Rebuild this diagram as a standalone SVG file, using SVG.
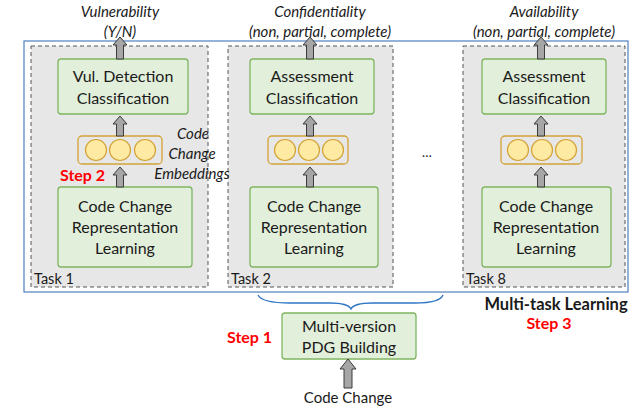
<svg xmlns="http://www.w3.org/2000/svg" width="633" height="412" viewBox="0 0 633 412">
<style>
text{font-family:Lato,"Liberation Sans",sans-serif;fill:#1a1a1a}
.t{font-size:16px;text-anchor:middle}
.it{font-size:15px;font-style:italic;text-anchor:middle}
.task{fill:#e7e7e7;stroke:#555;stroke-width:1;stroke-dasharray:4 3}
.g{fill:#e2efda;stroke:#7fb562;stroke-width:1.3}
.emb{fill:none;stroke:#d4a237;stroke-width:1.3}
.c{fill:#feeaa3;stroke:#d4a237;stroke-width:1.2}
.arr{fill:#a6a6a6;stroke:#3c3c3c;stroke-width:1}
.red{fill:#f00;font-weight:bold;font-size:16px}
.lbl{font-size:14.5px}
</style>
<rect x="24" y="41" width="604" height="251" fill="#fff" stroke="#4f7fc0" stroke-width="1.2"/>
<g id="task1">
<rect class="task" x="31" y="46" width="177" height="241"/>
<text class="lbl" x="34" y="284">Task 1</text>
<g id="t1-cls"><rect class="g" x="58" y="59" width="130" height="55" rx="3"/>
<text class="t" x="123" y="82">Vul. Detection</text><text class="t" x="123" y="104">Classification</text></g>
<g id="t1-emb"><rect class="emb" x="78" y="136" width="84" height="28" rx="4"/>
<circle class="c" cx="96" cy="150" r="10.5"/><circle class="c" cx="120" cy="150" r="10.5"/><circle class="c" cx="145" cy="150" r="10.5"/></g>
<g id="t1-rep"><rect class="g" x="58" y="187" width="134" height="80" rx="3"/>
<text class="t" x="125" y="212">Code Change</text><text class="t" x="125" y="233">Representation</text><text class="t" x="125" y="254">Learning</text></g>
</g>
<g id="task2">
<rect class="task" x="228" y="46" width="165" height="241"/>
<text class="lbl" x="231" y="284">Task 2</text>
<g id="t2-cls"><rect class="g" x="250" y="59" width="124" height="55" rx="3"/>
<text class="t" x="312" y="82">Assessment</text><text class="t" x="312" y="104">Classification</text></g>
<g id="t2-emb"><rect class="emb" x="268" y="136" width="80" height="28" rx="4"/>
<circle class="c" cx="285" cy="150" r="10.5"/><circle class="c" cx="309" cy="150" r="10.5"/><circle class="c" cx="333" cy="150" r="10.5"/></g>
<g id="t2-rep"><rect class="g" x="250" y="187" width="128" height="80" rx="3"/>
<text class="t" x="314" y="212">Code Change</text><text class="t" x="314" y="233">Representation</text><text class="t" x="314" y="254">Learning</text></g>
</g>
<g id="task8">
<rect class="task" x="463" y="46" width="162" height="241"/>
<text class="lbl" x="466" y="284">Task 8</text>
<g id="t8-cls"><rect class="g" x="482" y="59" width="124" height="55" rx="3"/>
<text class="t" x="544" y="82">Assessment</text><text class="t" x="544" y="104">Classification</text></g>
<g id="t8-emb"><rect class="emb" x="501" y="136" width="81" height="28" rx="4"/>
<circle class="c" cx="518" cy="150" r="10.5"/><circle class="c" cx="542" cy="150" r="10.5"/><circle class="c" cx="566" cy="150" r="10.5"/></g>
<g id="t8-rep"><rect class="g" x="482" y="187" width="129" height="80" rx="3"/>
<text class="t" x="546" y="212">Code Change</text><text class="t" x="546" y="233">Representation</text><text class="t" x="546" y="254">Learning</text></g>
</g>
<g id="pdg"><rect class="g" x="282" y="313" width="134" height="46" rx="3"/>
<text class="t" x="349" y="332">Multi-version</text><text class="t" x="349" y="353">PDG Building</text></g>
<g id="connectors">
<polygon class="arr" points="116.5,59 116.5,45 113,45 120,37 127,45 123.5,45 123.5,59"/>
<polygon class="arr" points="116.5,136 116.5,124 113,124 120,116 127,124 123.5,124 123.5,136"/>
<polygon class="arr" points="116.5,187 116.5,175 113,175 120,167 127,175 123.5,175 123.5,187"/>
<polygon class="arr" points="306.5,59 306.5,45 303,45 310,37 317,45 313.5,45 313.5,59"/>
<polygon class="arr" points="306.5,136 306.5,124 303,124 310,116 317,124 313.5,124 313.5,136"/>
<polygon class="arr" points="306.5,187 306.5,175 303,175 310,167 317,175 313.5,175 313.5,187"/>
<polygon class="arr" points="537.5,59 537.5,45 534,45 541,37 548,45 544.5,45 544.5,59"/>
<polygon class="arr" points="537.5,136 537.5,124 534,124 541,116 548,124 544.5,124 544.5,136"/>
<polygon class="arr" points="537.5,187 537.5,175 534,175 541,167 548,175 544.5,175 544.5,187"/>
<polygon class="arr" points="344,388 344,369 340,369 348,359 356,369 352,369 352,388"/>
<path d="M258,295 Q262,303 290,303 L330,303 Q348,303 351,309 Q354,303 372,303 L415,303 Q440,303 443,295" fill="none" stroke="#2e75c6" stroke-width="1.3"/>
</g>
<text class="it" x="120" y="17">Vulnerability</text>
<text class="it" x="120" y="37">(Y/N)</text>
<text class="it" x="320" y="17">Confidentiality</text>
<text class="it" x="320" y="37">(non, partial, complete)</text>
<text class="it" x="544" y="17">Availability</text>
<text class="it" x="544" y="37">(non, partial, complete)</text>
<text class="it" x="193" y="139">Code</text>
<text class="it" x="192" y="159">Change</text>
<text class="it" x="192" y="179">Embeddings</text>
<text x="427" y="157" font-size="13" text-anchor="middle">…</text>
<text class="red" x="60" y="181">Step 2</text>
<text class="red" x="227" y="343">Step 1</text>
<text class="red" x="549" y="329" text-anchor="middle">Step 3</text>
<text x="556" y="310" font-size="16.5" font-weight="bold" text-anchor="middle">Multi-task Learning</text>
<text x="348" y="403" font-size="15" text-anchor="middle">Code Change</text>
</svg>
